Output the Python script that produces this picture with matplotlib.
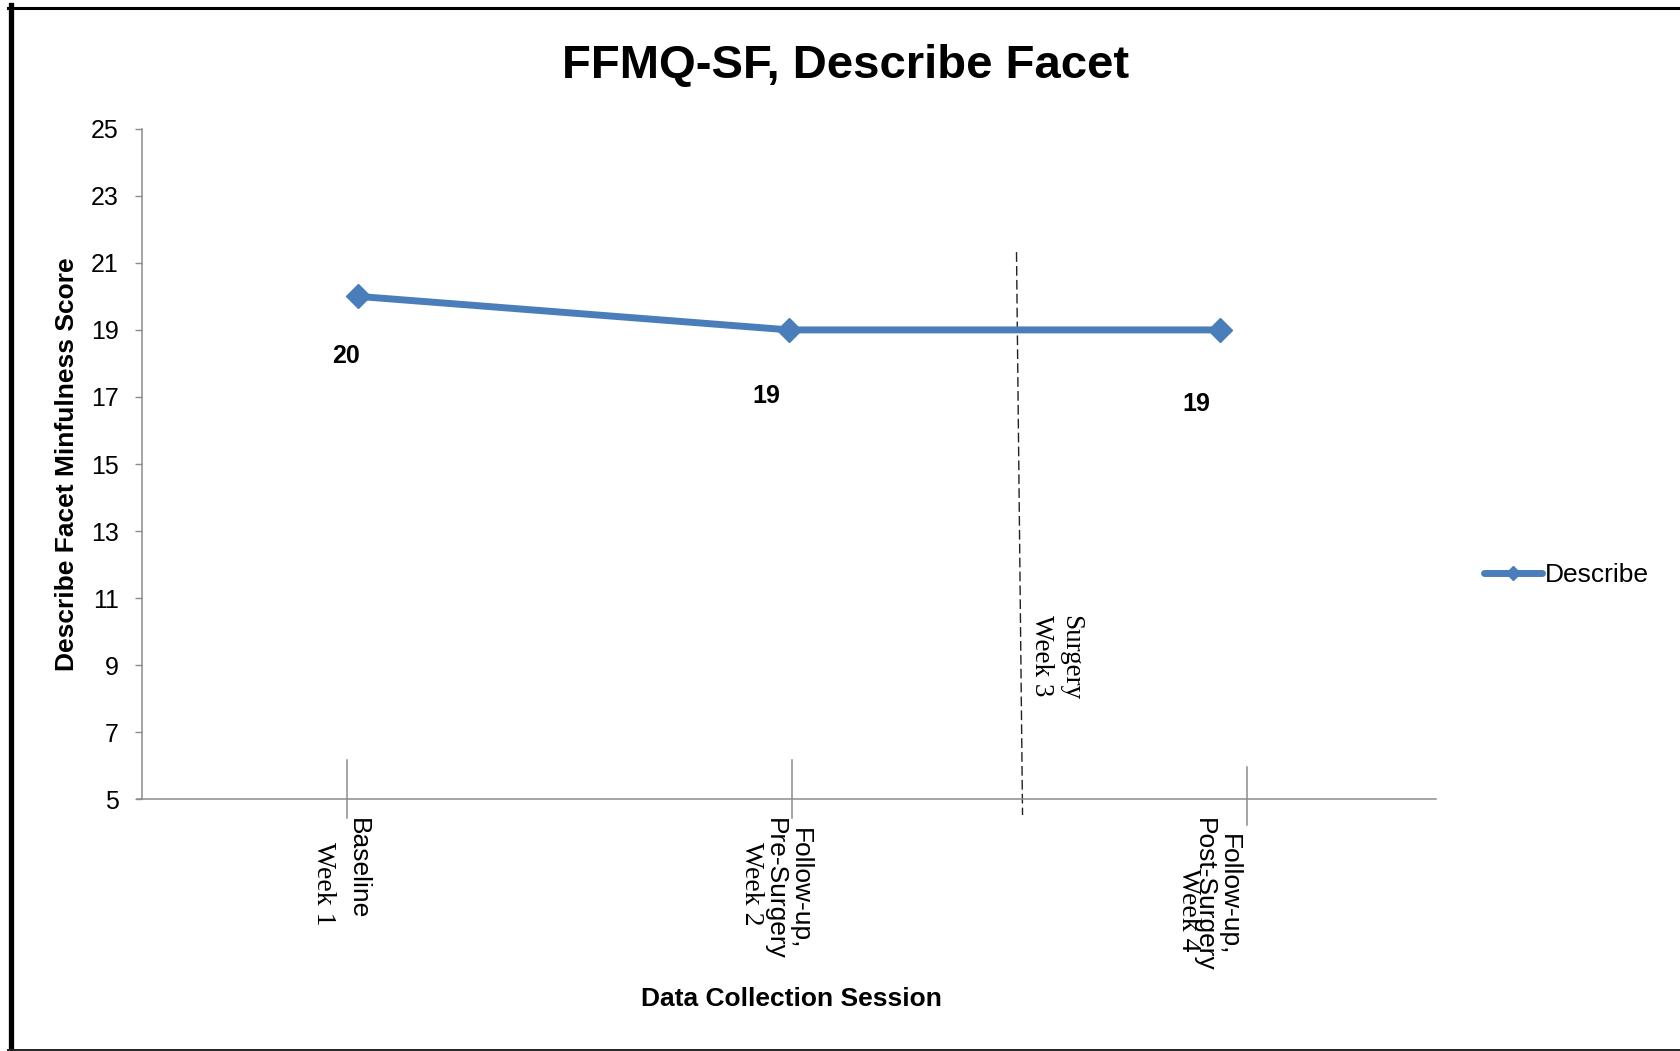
import numpy as np
import matplotlib
matplotlib.use('Agg')
import matplotlib.pyplot as plt
from matplotlib.lines import Line2D

# describe facet scores per data collection session
sessions = ['Baseline', 'Follow-up,\nPre-Surgery', 'Follow-up,\nPost-Surgery']
weeks = ['Week 1', 'Week 2', 'Week 4']
scores = [20, 19, 19]
yticks = list(range(5, 26, 2))
surgery_label = 'Surgery\nWeek 3'
series_name = 'Describe'

blue = '#4A7EBB'
grey = '#8C8C8C'
sans = 'Liberation Sans'
serif = 'Liberation Serif'

plt.rcParams['font.family'] = [sans, 'DejaVu Sans']

fig = plt.figure(figsize=(16.8, 10.51), dpi=100)
ax = fig.add_axes([0.0848, 0.2395, 0.77, 0.638])

x = np.arange(len(scores))
ax.plot(x, scores, color=blue, lw=5, marker='D', ms=12, mew=1,
        label=series_name, solid_capstyle='round', zorder=3)

# value labels under each point
label_offsets = [(-12, -60), (-23, -66), (-24, -74)]
for xi, v, off in zip(x, scores, label_offsets):
    ax.annotate(str(v), (xi, v), xytext=off, textcoords='offset pixels',
                ha='center', va='center', fontsize=18, fontweight='bold')

ax.set_xlim(-0.5, 2.5)
ax.set_ylim(5, 25)
ax.set_yticks(yticks)
ax.set_xticks([])
ax.tick_params(axis='y', direction='out', length=5, width=1, color=grey,
               pad=12, labelsize=18)
for s in ['top', 'right']:
    ax.spines[s].set_visible(False)
for s in ['left', 'bottom']:
    ax.spines[s].set_color(grey)
    ax.spines[s].set_linewidth(1.1)
ax.spines['bottom'].set_bounds(-0.513, 2.5)

# hand placed category markers crossing the x axis
tick_x = [-0.026, 1.006, 2.061]
tick_span = [(4.44, 6.17), (4.44, 6.17), (4.23, 5.96)]
for tx, (lo, hi) in zip(tick_x, tick_span):
    ax.plot([tx, tx], [lo, hi], color=grey, lw=1.1, clip_on=False)

# category labels, sans session name plus serif week
session_pos = [(0.0, 4.44), (0.995, 4.44), (1.99, 4.44)]
week_pos = [(-0.081, 3.72), (0.913, 3.72), (1.925, 2.95)]
for lab, (px, py) in zip(sessions, session_pos):
    ax.text(px, py, lab, rotation=-90, rotation_mode='anchor', ha='left',
            va='center', multialignment='center', fontsize=19,
            linespacing=1.05, clip_on=False)
for lab, (px, py) in zip(weeks, week_pos):
    ax.text(px, py, lab, rotation=-90, rotation_mode='anchor', ha='left',
            va='center', fontsize=20, family=serif, clip_on=False)

# surgery marker
ax.plot([1.527, 1.541], [21.32, 4.53], color='#222222', lw=1.0,
        dashes=(7, 3), clip_on=False)
ax.text(1.618, 10.5, surgery_label, rotation=-90, rotation_mode='anchor',
        ha='left', va='center', multialignment='left', fontsize=19.5,
        family=serif)

ax.legend(loc='center left', bbox_to_anchor=(0.8833, 0.4525),
          bbox_transform=fig.transFigure, frameon=False,
          prop={'family': sans, 'size': 19}, handlelength=2.2,
          handletextpad=0.1, borderpad=0, borderaxespad=0, markerscale=0.6)

fig.text(846 / 1680, 1 - 66 / 1051, 'FFMQ-SF, Describe Facet',
         ha='center', va='center', fontsize=34, fontweight='bold')
fig.text(67 / 1680, 1 - 464 / 1051, 'Describe Facet Minfulness Score',
         rotation=90, ha='center', va='center', fontsize=19,
         fontweight='bold')
fig.text(791 / 1680, 1 - 999.5 / 1051, 'Data Collection Session',
         ha='center', va='center', fontsize=19, fontweight='bold')

# frame edges
fig.add_artist(Line2D([10.5 / 1680, 10.5 / 1680], [1 - 5 / 1051, 0],
                      transform=fig.transFigure, color='black', lw=3.8))
fig.add_artist(Line2D([8 / 1680, 1], [1 - 7.5 / 1051, 1 - 7.5 / 1051],
                      transform=fig.transFigure, color='black', lw=2.2))
fig.add_artist(Line2D([8 / 1680, 1], [1.5 / 1051, 1.5 / 1051],
                      transform=fig.transFigure, color='#222222', lw=1.4))

fig.savefig('out.png', dpi=100, facecolor='white')
